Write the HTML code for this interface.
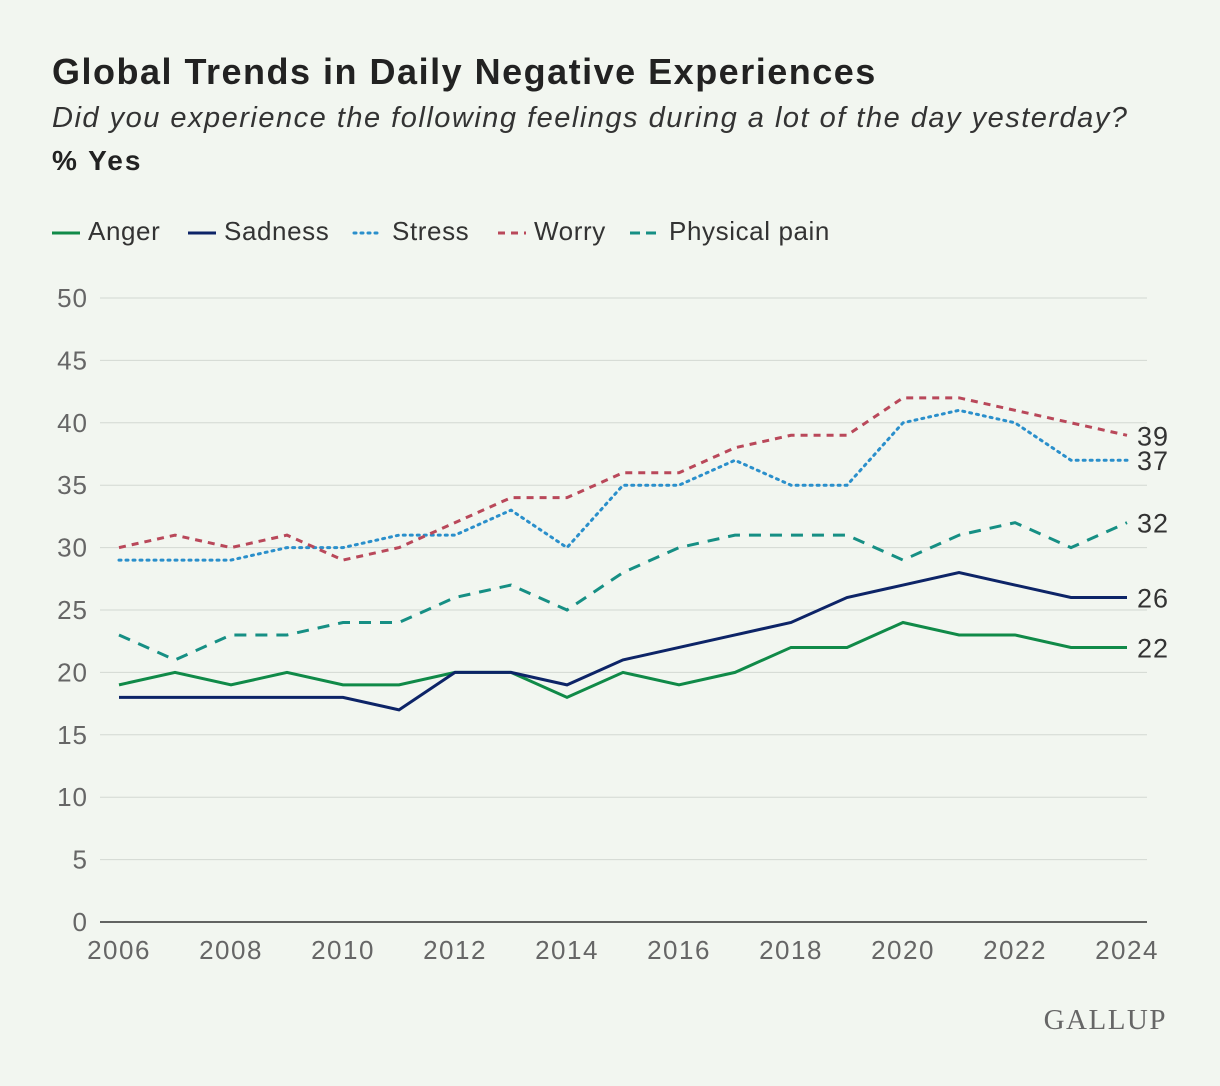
<!DOCTYPE html>
<html><head><meta charset="utf-8"><style>
body{margin:0;background:#f2f6f0;font-family:"Liberation Sans",sans-serif;}
#wrap{position:relative;width:1220px;height:1086px;background:#f2f6f0;}
.t{position:absolute;left:52px;color:#222;white-space:nowrap;}
</style></head><body>
<div id="wrap">
<div class="t" style="top:51px;font-size:36px;font-weight:bold;letter-spacing:1.5px;">Global Trends in Daily Negative Experiences</div>
<div class="t" style="top:102px;font-size:29px;font-style:italic;color:#333;letter-spacing:1.5px;">Did you experience the following feelings during a lot of the day yesterday?</div>
<div class="t" style="top:145px;font-size:28px;font-weight:bold;letter-spacing:2px;">% Yes</div>
<svg id="chart" width="1220" height="1086" style="position:absolute;left:0;top:0"></svg>
</div>
<script>
const years=[2006,2007,2008,2009,2010,2011,2012,2013,2014,2015,2016,2017,2018,2019,2020,2021,2022,2023,2024];
const anger=[19,20,19,20,19,19,20,20,18,20,19,20,22,22,24,23,23,22,22];
const sadness=[18,18,18,18,18,17,20,20,19,21,22,23,24,26,27,28,27,26,26];
const stress=[29,29,29,30,30,31,31,33,30,35,35,37,35,35,40,41,40,37,37];
const worry=[30,31,30,31,29,30,32,34,34,36,36,38,39,39,42,42,41,40,39];
const pain=[23,21,23,23,24,24,26,27,25,28,30,31,31,31,29,31,32,30,32];
const yTicks=[0,5,10,15,20,25,30,35,40,45,50];
const xTicks=[2006,2008,2010,2012,2014,2016,2018,2020,2022,2024];
const NS="http://www.w3.org/2000/svg";
const svg=document.getElementById('chart');
const x=v=>119+(v-2006)*56;
const y=v=>922-v*12.48;
function el(t,a){const e=document.createElementNS(NS,t);for(const k in a)e.setAttribute(k,a[k]);svg.appendChild(e);return e;}
yTicks.forEach(v=>{
 const g=el('line',{x1:100,x2:1147,y1:y(v),y2:y(v),stroke:v===0?'#333':'#d3d8d2','stroke-width':v===0?1.5:1});
 
 
 const t=el('text',{x:88,y:y(v)+9,'text-anchor':'end','font-size':26,'letter-spacing':1,fill:'#666','font-family':'Liberation Sans, sans-serif'});
 t.textContent=v;
 
 
});
xTicks.forEach(v=>{
 const t=el('text',{x:x(v),y:959,'text-anchor':'middle','font-size':26,'letter-spacing':1.5,fill:'#666','font-family':'Liberation Sans, sans-serif'});
 t.textContent=v;
 
 
});
const series=[
 {n:'anger',d:anger,c:'#108a48',dash:'',label:'Anger'},
 {n:'sadness',d:sadness,c:'#0d2467',dash:'',label:'Sadness'},
 {n:'stress',d:stress,c:'#2a8fcb',dash:'2 5',label:'Stress'},
 {n:'worry',d:worry,c:'#b9485a',dash:'7 6',label:'Worry'},
 {n:'physical-pain',d:pain,c:'#168f84',dash:'12 9',label:'Physical pain'}];
series.forEach(s=>{
 const p=el('polyline',{points:s.d.map((v,i)=>x(years[i])+','+y(v)).join(' '),fill:'none',stroke:s.c,'stroke-width':3,'stroke-dasharray':s.dash,'stroke-linecap':s.dash==='2 5'?'round':'butt'});
 
 
 const last=s.d[s.d.length-1];
 const t=el('text',{x:1137,y:y(last)+10,'font-size':27,'letter-spacing':1,fill:'#333','font-family':'Liberation Sans, sans-serif'});
 t.textContent=last;
 
 
});
const lx=[52,188,354,498,630];
const tx=[88,224,392,534,669];
series.forEach((s,i)=>{
 const l=el('line',{x1:lx[i],x2:lx[i]+28,y1:233,y2:233,stroke:s.c,'stroke-width':3,'stroke-dasharray':s.dash==='12 9'?'10 6':s.dash,'stroke-linecap':s.dash==='2 5'?'round':'butt'});
 
 
 const t=el('text',{x:tx[i],y:240,'font-size':26,'letter-spacing':0.6,fill:'#333','font-family':'Liberation Sans, sans-serif'});
 t.textContent=s.label;
 
 
});
const g=el('text',{x:1167,y:1029,'text-anchor':'end','font-size':29,fill:'#666','font-family':'Liberation Serif, serif','letter-spacing':'1.5'});
g.textContent='GALLUP';


</script>
</body></html>
